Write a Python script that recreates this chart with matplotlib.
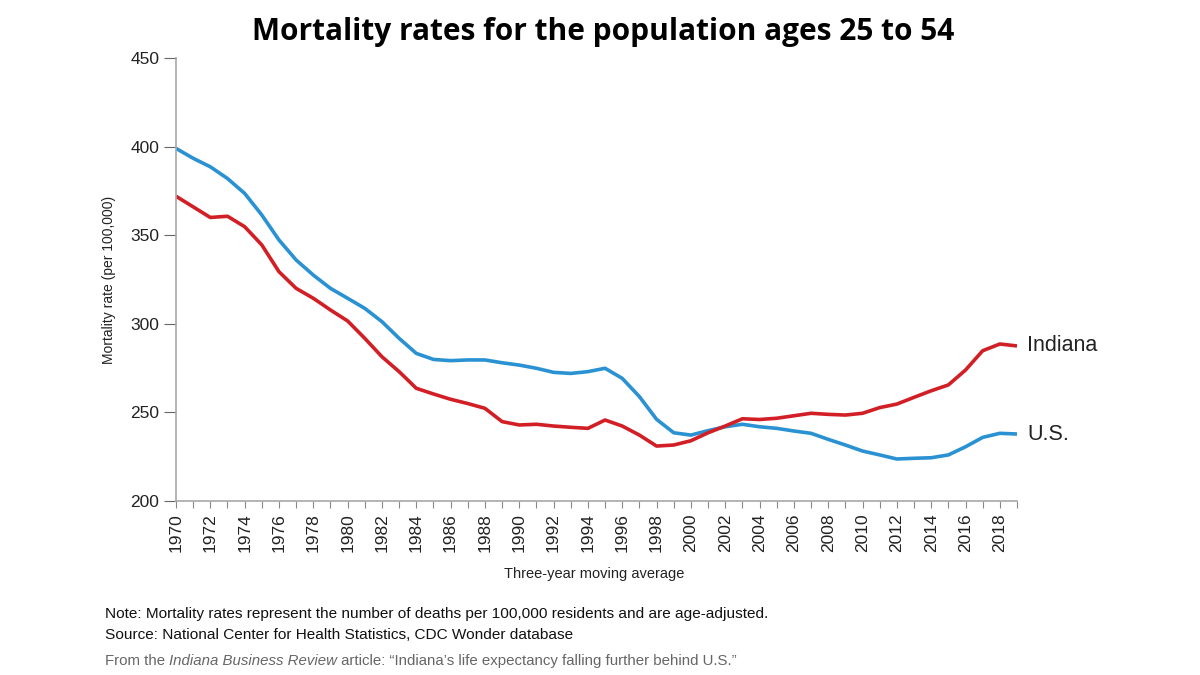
import matplotlib
matplotlib.use("Agg")
import matplotlib.pyplot as plt

years = list(range(1970, 2020))

us = [399, 393.4, 388.6, 382, 373.6, 361.4, 347.3, 336, 327.5, 320,
      314.4, 308.7, 301.2, 291.8, 283.3, 279.9, 279.2, 279.6, 279.6, 278,
      276.7, 274.9, 272.6, 272, 273, 274.9, 269.2, 258.9, 246.1, 238.5,
      237.2, 239.7, 241.9, 243.3, 241.9, 241, 239.5, 238.2, 234.8, 231.6,
      228.2, 226, 223.7, 224.1, 224.4, 226, 230.6, 235.9, 238.2, 237.8]

indiana = [372, 366, 360, 360.7, 354.8, 344.5, 329.4, 320, 314.4, 307.8,
           301.6, 291.8, 281.4, 273, 263.6, 260.4, 257.4, 255, 252.3, 244.8,
           242.9, 243.3, 242.3, 241.6, 241, 245.7, 242.3, 237.2, 231, 231.6,
           234, 238.5, 242.3, 246.4, 246, 246.7, 248.1, 249.5, 248.9, 248.5,
           249.5, 252.7, 254.7, 258.5, 262.2, 265.5, 273.9, 284.8, 288.6, 287.5]

y_ticks = [200, 250, 300, 350, 400, 450]

red = "#d21f26"
blue = "#2a92d2"
grey = "#a8a8a8"
sans = "Liberation Sans"

fig = plt.figure(figsize=(12, 6.75), dpi=100)
ax = fig.add_axes([176 / 1200, 174 / 675, 841 / 1200, 443 / 675])

ax.plot(years, us, color=blue, lw=2.6, solid_capstyle="butt")
ax.plot(years, indiana, color=red, lw=2.6, solid_capstyle="butt")

ax.set_xlim(1970, 2019)
ax.set_ylim(200, 450)

for s in ["top", "right"]:
    ax.spines[s].set_visible(False)
for s in ["left", "bottom"]:
    ax.spines[s].set_color(grey)
    ax.spines[s].set_linewidth(1.2)

ax.set_yticks(y_ticks)
ax.set_yticklabels([str(v) for v in y_ticks], fontsize=12.5, family=sans, color="#222222")
ax.tick_params(axis="y", direction="out", length=9, width=0.8, color="#666666", pad=3)

ax.set_xticks(years)
ax.set_xticklabels([str(y) if y % 2 == 0 else "" for y in years], rotation=90,
                   fontsize=12.5, family=sans, color="#222222")
ax.tick_params(axis="x", direction="out", length=5, width=0.8, color="#888888", pad=4)

ax.set_ylabel("Mortality rate (per 100,000)", fontsize=10, family=sans,
              color="#222222", labelpad=10)

ax.text(2019.6, indiana[-1], "Indiana", fontsize=15.5, family=sans,
        color="#222222", va="center", ha="left")
ax.text(2019.6, us[-1], "U.S.", fontsize=15.5, family=sans,
        color="#222222", va="center", ha="left")

fig.text(0.5025, 1 - 32 / 675, "Mortality rates for the population ages 25 to 54",
         fontsize=21.5, fontweight="bold", family="Open Sans", ha="center", va="center")

fig.text(594 / 1200, 1 - 574 / 675, "Three-year moving average", fontsize=10.5,
         family=sans, ha="center", va="center", color="#222222")

fig.text(105 / 1200, 1 - 614 / 675,
         "Note: Mortality rates represent the number of deaths per 100,000 residents and are age-adjusted.",
         fontsize=11.1, family=sans, ha="left", va="center", color="#111111")
fig.text(105 / 1200, 1 - 635 / 675,
         "Source: National Center for Health Statistics, CDC Wonder database",
         fontsize=11.1, family=sans, ha="left", va="center", color="#111111")

# credit line with italic title in the middle
parts = [("From the ", "normal"), ("Indiana Business Review", "italic"),
         (" article: \u201cIndiana\u2019s life expectancy falling further behind U.S.\u201d", "normal")]
fig.canvas.draw()
r = fig.canvas.get_renderer()
x = 105
for txt, style in parts:
    t = fig.text(x / 1200, 1 - 661 / 675, txt, fontsize=10.8, family=sans,
                 style=style, ha="left", va="center", color="#666666")
    x += t.get_window_extent(renderer=r).width

fig.savefig("out.png", dpi=100)
